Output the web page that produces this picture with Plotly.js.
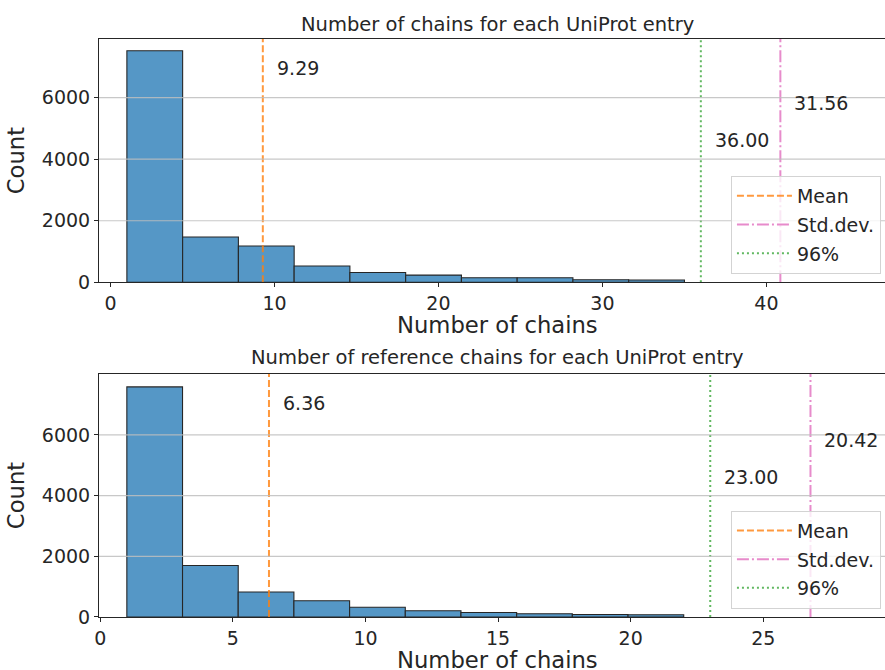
<!DOCTYPE html>
<html><head><meta charset="utf-8">
<script src="https://cdn.plot.ly/plotly-3.0.1.min.js"></script>
<style>body{margin:0;background:#fff;}</style>
</head><body><div id="chart" style="width:885px;height:670px;"></div>
<script>
// ---- data ----
const panelTitles = ["Number of chains for each UniProt entry", "Number of reference chains for each UniProt entry"];
const xLabel = "Number of chains";
const yLabel = "Count";
const legendLabels = ["Mean", "Std.dev.", "96%"];

const allBinStart = 1;
const allBinWidth = 3.4;
const allCounts = [7527, 1472, 1180, 527, 319, 234, 146, 146, 81, 72];
const allMean = 9.29, allStd = 31.56, allP96 = 36.00;

const refBinStart = 1;
const refBinWidth = 2.1;
const refCounts = [7580, 1698, 823, 533, 322, 204, 148, 105, 82, 72];
const refMean = 6.36, refStd = 20.42, refP96 = 23.00;

const allXTicks = [0, 10, 20, 30, 40];
const refXTicks = [0, 5, 10, 15, 20, 25];
const yTicks = [0, 2000, 4000, 6000];

// ---- styles ----
const FONT = "DejaVu Sans";
const TXT = "#262626";
const barFill = "#5597c6";
const barEdge = "#262626";
const cMean = "rgba(255,127,14,0.8)";
const cStd = "rgba(227,119,194,0.85)";
const cP96 = "rgba(44,160,44,0.75)";

function centers(start, w, n) { return Array.from({length: n}, (_, i) => start + (i + 0.5) * w); }

function panel(counts, start, w, mean, std, p96, xa, ya, yTop, leg) {
  const tr = [];
  tr.push({type: 'bar', x: centers(start, w, counts.length), y: counts, width: counts.map(() => w),
    marker: {color: barFill, line: {color: barEdge, width: 1.1}}, showlegend: false,
    xaxis: xa, yaxis: ya, hoverinfo: 'x+y'});
  const lines = [[mean, cMean, '7px,3px', legendLabels[0]],
                 [mean + std, cStd, '12px,3px,2px,3px', legendLabels[1]],
                 [p96, cP96, '2px,3px', legendLabels[2]]];
  lines.forEach(([v, c, d, name], k) => {
    tr.push({type: 'scatter', mode: 'lines', x: [v, v], y: [0, yTop], name: name,
      legendgroup: leg + k,
      line: {color: c, width: 2, dash: d}, xaxis: xa, yaxis: ya, legend: leg});
  });
  return tr;
}

const yTopAll = 7908, yTopRef = 8005;
const data = [].concat(
  panel(allCounts, allBinStart, allBinWidth, allMean, allStd, allP96, 'x', 'y', yTopAll, 'legend'),
  panel(refCounts, refBinStart, refBinWidth, refMean, refStd, refP96, 'x2', 'y2', yTopRef, 'legend2')
);

const axFont = {family: FONT, size: 19, color: TXT};
function xAxis(ticks, range, anchor) {
  return {range: range, tickvals: ticks, ticktext: ticks.map(String), anchor: anchor,
    showline: true, mirror: true, linecolor: '#262626', linewidth: 1,
    ticks: 'outside', ticklen: 4, tickwidth: 1, tickcolor: '#262626',
    showgrid: false, zeroline: false, tickfont: axFont};
}
function yAxis(range, domain, anchor) {
  return {range: range, domain: domain, tickvals: yTicks, ticktext: yTicks.map(String), anchor: anchor,
    showline: true, linecolor: '#262626', linewidth: 1,
    ticks: 'outside', ticklen: 4, tickwidth: 1, tickcolor: '#262626',
    showgrid: false, zeroline: false, tickfont: axFont,
    title: {text: yLabel, font: {family: FONT, size: 22.7, color: TXT}, standoff: 10}};
}

const shapes = [];
[['x', 'y'], ['x2', 'y2']].forEach(([xa, ya]) => {
  yTicks.slice(1).forEach(t => shapes.push({type: 'line', layer: 'above', xref: xa + ' domain', yref: ya,
    x0: 0, x1: 1, y0: t, y1: t, line: {color: 'rgba(190,190,190,0.85)', width: 1.2}}));
});

function valLabel(v, text, xa, ya, yfrac) {
  return {x: v, y: yfrac, xref: xa, yref: ya + ' domain', text: text, showarrow: false,
    xanchor: 'left', yanchor: 'middle', xshift: 12, font: {family: FONT, size: 19, color: TXT}};
}
const H = 578.5, T = 39;
const py = (pix) => 1 - (pix - T) / H;
const annotations = [
  {x: 0.5076, y: py(24), xref: 'paper', yref: 'paper', text: panelTitles[0], showarrow: false,
   xanchor: 'center', yanchor: 'middle', font: {family: FONT, size: 19.5, color: TXT}},
  {x: 0.5076, y: py(358), xref: 'paper', yref: 'paper', text: panelTitles[1], showarrow: false,
   xanchor: 'center', yanchor: 'middle', font: {family: FONT, size: 19.5, color: TXT}},
  {x: 0.5076, y: py(325), xref: 'paper', yref: 'paper', text: xLabel, showarrow: false,
   xanchor: 'center', yanchor: 'middle', font: {family: FONT, size: 22.7, color: TXT}},
  {x: 0.5076, y: py(661), xref: 'paper', yref: 'paper', text: xLabel, showarrow: false,
   xanchor: 'center', yanchor: 'middle', font: {family: FONT, size: 22.7, color: TXT}},
  valLabel(allMean, allMean.toFixed(2), 'x', 'y', 0.881),
  valLabel(allMean + allStd, allStd.toFixed(2), 'x', 'y', 0.737),
  valLabel(allP96, allP96.toFixed(2), 'x', 'y', 0.585),
  valLabel(refMean, refMean.toFixed(2), 'x2', 'y2', 0.88),
  valLabel(refMean + refStd, refStd.toFixed(2), 'x2', 'y2', 0.729),
  valLabel(refP96, refP96.toFixed(2), 'x2', 'y2', 0.578)
];

const legStyle = (y) => ({x: 0.804, y: y, xanchor: 'left', yanchor: 'top',
  bgcolor: 'rgba(255,255,255,0.8)', bordercolor: '#d3d3d3', borderwidth: 1,
  font: {family: FONT, size: 19, color: TXT}, itemwidth: 55, tracegroupgap: 1,
  traceorder: 'grouped'});

const layout = {
  width: 885, height: 670,
  margin: {l: 99, r: 0, t: T, b: 670 - T - H},
  paper_bgcolor: '#fff', plot_bgcolor: '#fff',
  font: {family: FONT, color: TXT},
  bargap: 0,
  xaxis: xAxis(allXTicks, [-0.7, 47.23], 'y'),
  yaxis: yAxis([0, yTopAll], [0.5791, 1], 'x'),
  xaxis2: xAxis(refXTicks, [-0.05, 29.59], 'y2'),
  yaxis2: yAxis([0, yTopRef], [0, 0.4204], 'x2'),
  legend: legStyle(py(176)),
  legend2: legStyle(py(511)),
  shapes: shapes,
  annotations: annotations
};

Plotly.newPlot('chart', data, layout, {displayModeBar: false, staticPlot: true});
</script>
</body></html>
